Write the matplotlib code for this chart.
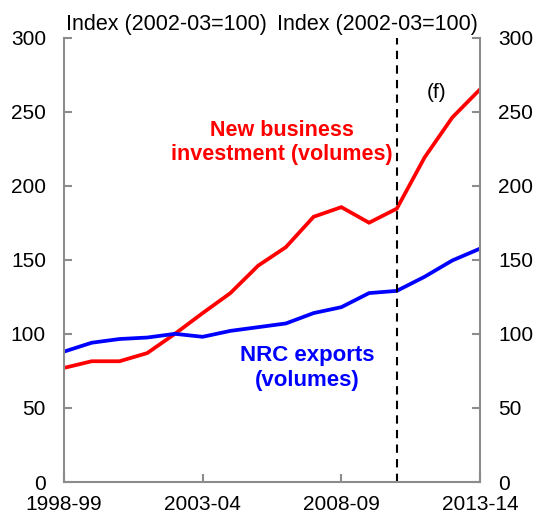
import matplotlib
matplotlib.use("Agg")
import matplotlib.pyplot as plt

plt.rcParams['font.family'] = ['Liberation Sans', 'DejaVu Sans']

years = ["1998-99", "1999-00", "2000-01", "2001-02", "2002-03", "2003-04", "2004-05",
         "2005-06", "2006-07", "2007-08", "2008-09", "2009-10", "2010-11", "2011-12",
         "2012-13", "2013-14"]
investment = [77, 81.5, 81.5, 87, 100, 114, 127.5, 146, 158.5, 179, 185.5, 175, 184.5, 219, 246, 265]
nrc_exports = [88, 94, 96.5, 97.5, 100, 98, 102, 104.5, 107, 114, 118, 127.5, 129, 138.5, 149.5, 157.5]
tick_years = ["1998-99", "2003-04", "2008-09", "2013-14"]
yticks = [0, 50, 100, 150, 200, 250, 300]
forecast_start = "2010-11"

x = list(range(len(years)))
fig = plt.figure(figsize=(5.37, 5.17), dpi=100)
ax = fig.add_axes([64/537, 35/517, 416/537, 444.5/517])

ax.plot(x, investment, color='#ff0000', lw=2.7, solid_joinstyle='miter')
ax.plot(x, nrc_exports, color='#0000ff', lw=2.7, solid_joinstyle='miter')

fx = years.index(forecast_start)
ax.axvline(fx, color='black', lw=1.5, ls=(0, (4, 3)))

ax.set_xlim(0, len(years) - 1)
ax.set_ylim(0, 300)

gray = '#8c8c8c'
for s in ['left', 'right', 'bottom']:
    ax.spines[s].set_color(gray)
    ax.spines[s].set_linewidth(1.5)
ax.spines['top'].set_visible(False)

ax.set_xticks([years.index(t) for t in tick_years])
ax.set_xticklabels(tick_years)
ax.set_yticks(yticks)
ax.tick_params(axis='x', direction='in', length=6, width=1.5, color=gray, pad=9, labelsize=15)
ax.tick_params(axis='y', direction='in', length=6, width=1.5, color=gray, pad=13, labelsize=15,
               left=True, right=True, labelleft=True, labelright=True)

fig.text(66.5/537, 1 - 30/517, "Index (2002-03=100)", fontsize=15.5, ha='left', va='baseline')
fig.text(478/537, 1 - 30/517, "Index (2002-03=100)", fontsize=15.5, ha='right', va='baseline')

ax.text(7.86, 229, "New business\ninvestment (volumes)", color='#ff0000', fontsize=15.5,
        fontweight='bold', ha='center', va='center', linespacing=1.15)
ax.text(8.78, 77, "NRC exports\n(volumes)", color='#0000ff', fontsize=16,
        fontweight='bold', ha='center', va='center', linespacing=1.2)
ax.text(13.45, 263, "(f)", color='black', fontsize=15, ha='center', va='center')

fig.savefig("out.png", dpi=100)
